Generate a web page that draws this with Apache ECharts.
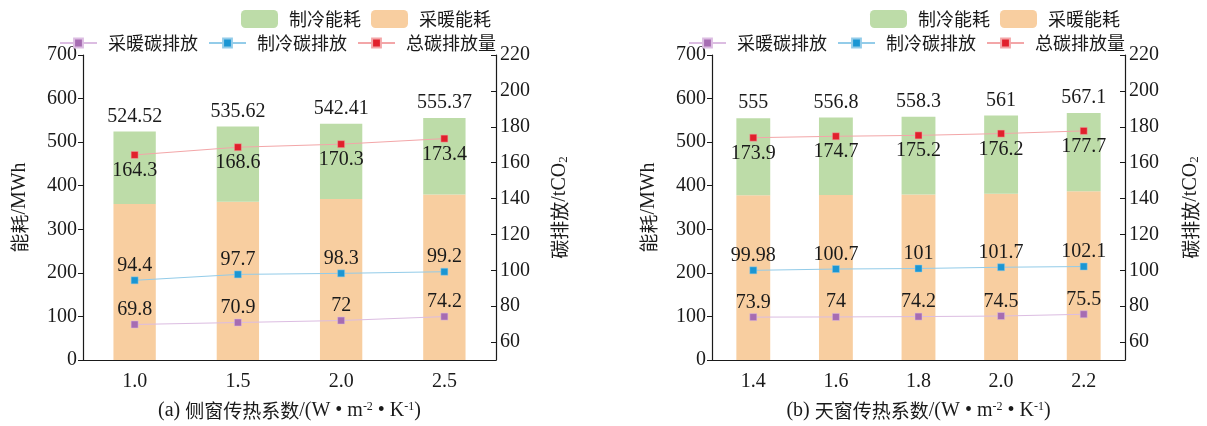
<!DOCTYPE html>
<html>
<head>
<meta charset="utf-8">
<script src="https://cdn.jsdelivr.net/npm/echarts@6/dist/echarts.min.js"></script>
<style>
  html, body { margin: 0; padding: 0; background: #fff; }
  #chart { width: 1207px; height: 426px; }
</style>
</head>
<body>
<div id="chart"></div>
<script>
// (a) side window heat-transfer coefficient
const sideCats = ['1.0', '1.5', '2.0', '2.5'];
const sideHeating = [358.0, 363.2, 369.3, 380.0];
const sideTotal = [524.52, 535.62, 542.41, 555.37];
const sideHeatCO2 = [69.8, 70.9, 72, 74.2];
const sideCoolCO2 = [94.4, 97.7, 98.3, 99.2];
const sideTotalCO2 = [164.3, 168.6, 170.3, 173.4];

// (b) skylight heat-transfer coefficient
const skyCats = ['1.4', '1.6', '1.8', '2.0', '2.2'];
const skyHeating = [378.3, 378.5, 380.0, 381.8, 387.5];
const skyTotal = [555, 556.8, 558.3, 561, 567.1];
const skyHeatCO2 = [73.9, 74, 74.2, 74.5, 75.5];
const skyCoolCO2 = [99.98, 100.7, 101, 101.7, 102.1];
const skyTotalCO2 = [173.9, 174.7, 175.2, 176.2, 177.7];

// axis tick values
const co2Ticks = [60, 80, 100, 120, 140, 160, 180, 200, 220];

const SERIF = '"Liberation Serif", "Times New Roman", serif';
const CJK = '"Noto Sans CJK SC", sans-serif';
const INK = '#1a1a1a';

const GREEN = '#bddca8';
const ORANGE = '#f8cea0';
const PURPLE = '#a66cb2', PURPLE_L = '#dcbde2';
const BLUE = '#1b96d3', BLUE_L = '#93cce9';
const RED = '#e1202c', RED_L = '#f3a6a8';

const coolingOf = (total, heating) => total.map((t, i) => +(t - heating[i]).toFixed(2));

const nameRich = {
  c: { fontFamily: CJK, fontSize: 19, color: INK },
  l: { fontFamily: SERIF, fontSize: 20, color: INK },
  sup: { fontFamily: SERIF, fontSize: 12, color: INK, verticalAlign: 'top' },
  sub: { fontFamily: SERIF, fontSize: 13, color: INK, verticalAlign: 'bottom' }
};

const lineAxis = { show: true, lineStyle: { color: INK, width: 1.2 } };
const tickLabel = { color: INK, fontFamily: SERIF, fontSize: 20 };

function xAxisFor(idx, cats, prefix, title) {
  return {
    type: 'category', gridIndex: idx, data: cats,
    axisLine: lineAxis, axisTick: { show: false },
    axisLabel: Object.assign({ margin: 12 }, tickLabel),
    name: '{l|' + prefix + ' }{c|' + title + '}{l|/(W • m}{sup|-2}{l| • K}{sup|-1}{l|)}',
    nameLocation: 'middle', nameGap: 41,
    nameTextStyle: { rich: nameRich }
  };
}

function energyAxis(idx) {
  return {
    type: 'value', gridIndex: idx, min: 0, max: 700, interval: 100,
    position: 'left',
    axisLine: lineAxis,
    axisTick: { show: true, inside: false, length: 5, lineStyle: { color: INK } },
    axisLabel: Object.assign({ margin: 6 }, tickLabel),
    splitLine: { show: false },
    name: '{c|能耗}{l|/MWh}', nameLocation: 'middle', nameRotate: 90, nameGap: 53,
    nameTextStyle: { rich: nameRich }
  };
}

function co2Axis(idx, gap) {
  return {
    type: 'value', gridIndex: idx, min: 50, max: 220,
    position: 'right',
    axisLine: lineAxis,
    axisTick: { show: true, inside: true, length: 5, customValues: co2Ticks, lineStyle: { color: INK } },
    axisLabel: Object.assign({ margin: 4, customValues: co2Ticks }, tickLabel),
    splitLine: { show: false },
    name: '{c|碳排放}{l|/tCO}{sub|2}', nameLocation: 'middle', nameRotate: 90, nameGap: gap,
    nameTextStyle: { rich: nameRich }
  };
}

const valueLabel = (pos, dist) => ({
  show: true, position: pos, distance: dist,
  color: INK, fontFamily: SERIF, fontSize: 20
});

function panelSeries(xi, yLeft, yRight, heating, total, heatCO2, coolCO2, totalCO2) {
  const cooling = coolingOf(total, heating);
  const lineSeries = (name, data, dark, light, pos, dist) => ({
    name, type: 'line', xAxisIndex: xi, yAxisIndex: yRight, data,
    symbol: 'rect', symbolSize: 7, z: 5,
    lineStyle: { color: light, width: 1 },
    itemStyle: { color: dark, borderColor: light, borderWidth: 0.5 },
    label: valueLabel(pos, dist)
  });
  return [
    {
      name: '采暖能耗', type: 'bar', stack: 'energy' + xi, xAxisIndex: xi, yAxisIndex: yLeft,
      data: heating, barWidth: '41%', itemStyle: { color: ORANGE }, z: 2
    },
    {
      name: '制冷能耗', type: 'bar', stack: 'energy' + xi, xAxisIndex: xi, yAxisIndex: yLeft,
      data: cooling, barWidth: '41%', itemStyle: { color: GREEN }, z: 2,
      label: Object.assign(valueLabel('top', 5), {
        formatter: p => String(total[p.dataIndex])
      })
    },
    lineSeries('采暖碳排放', heatCO2, PURPLE, PURPLE_L, 'top', 1),
    lineSeries('制冷碳排放', coolCO2, BLUE, BLUE_L, 'top', 1),
    lineSeries('总碳排放量', totalCO2, RED, RED_L, 'bottom', 2)
  ];
}

const legendText = { fontFamily: CJK, fontSize: 18, color: INK, padding: [0, 0, 0, 6] };
const barLegend = left => ({
  left, top: 10, padding: 0, itemGap: 10, itemWidth: 37, itemHeight: 18,
  data: ['制冷能耗', '采暖能耗'], textStyle: legendText, selectedMode: false
});
const lineLegend = left => ({
  left, top: 34, padding: 0, itemGap: 10, itemWidth: 37, itemHeight: 11,
  data: ['采暖碳排放', '制冷碳排放', '总碳排放量'], textStyle: legendText, selectedMode: false
});

const chart = echarts.init(document.getElementById('chart'), null, { renderer: 'canvas' });
chart.setOption({
  animation: false,
  backgroundColor: '#fff',
  legend: [barLegend(241), lineLegend(59), barLegend(870), lineLegend(688)],
  grid: [
    { left: 83, right: 711, top: 55, bottom: 66 },
    { left: 712, right: 82, top: 55, bottom: 66 }
  ],
  xAxis: [
    xAxisFor(0, sideCats, '(a)', '侧窗传热系数'),
    xAxisFor(1, skyCats, '(b)', '天窗传热系数')
  ],
  yAxis: [energyAxis(0), co2Axis(0, 54), energyAxis(1), co2Axis(1, 56)],
  series: [].concat(
    panelSeries(0, 0, 1, sideHeating, sideTotal, sideHeatCO2, sideCoolCO2, sideTotalCO2),
    panelSeries(1, 2, 3, skyHeating, skyTotal, skyHeatCO2, skyCoolCO2, skyTotalCO2)
  )
});
</script>
</body>
</html>
